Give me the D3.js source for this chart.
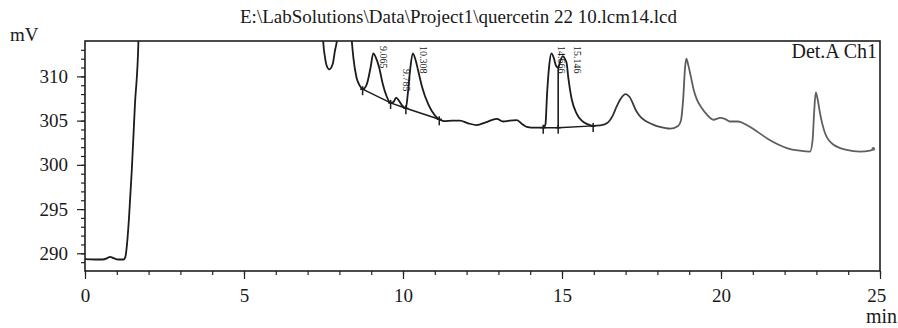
<!DOCTYPE html>
<html>
<head>
<meta charset="utf-8">
<script src="https://cdn.jsdelivr.net/npm/d3@7"></script>
<style>
  body { margin: 0; background: #fff; }
  svg { display: block; }
  svg text { font-family: "Liberation Serif", "DejaVu Serif", serif; fill: #1a1a1a; }
</style>
</head>
<body>
<svg id="chart" width="898" height="328"></svg>
<script>
// ---- chromatogram data ----
const titleText = "E:\\LabSolutions\\Data\\Project1\\quercetin 22 10.lcm14.lcd";
const channelLabel = "Det.A Ch1";
const yUnit = "mV";
const xUnit = "min";

// retention time (min)
const timeMin = [
  0, 0.3, 0.55, 0.7, 0.79, 0.9, 1.05, 1.21, 1.27, 1.32, 1.38, 1.47, 1.57, 1.68, 1.75,
  7.40, 7.49, 7.55, 7.60, 7.68, 7.79, 7.86, 7.92, 8.15,
  8.39, 8.44, 8.54, 8.65, 8.73, 8.86, 8.98, 9.065, 9.15, 9.25, 9.36, 9.48, 9.61,
  9.70, 9.785, 9.88, 10.0, 10.09, 10.15, 10.22, 10.308, 10.40, 10.48, 10.60, 10.80, 11.0, 11.14,
  11.3, 11.55, 11.79, 12.05, 12.32, 12.6, 12.95, 13.15, 13.35, 13.58, 13.75, 13.89, 14.15, 14.41,
  14.48, 14.53, 14.60, 14.666, 14.75, 14.81, 14.88, 14.95, 15.03, 15.10, 15.146, 15.20, 15.30,
  15.46, 15.62, 15.80, 15.98, 16.2, 16.41, 16.6, 16.72, 16.85, 17.0, 17.12, 17.35, 17.5, 17.66,
  17.9, 18.08, 18.40, 18.65, 18.74, 18.81, 18.87, 18.91, 18.97, 19.05, 19.14, 19.24, 19.40,
  19.55, 19.76, 19.97, 20.12, 20.28, 20.54, 20.81, 21.12, 21.49, 21.8, 22.07, 22.48, 22.80,
  22.88, 22.93, 22.98, 23.04, 23.11, 23.27, 23.53, 23.95, 24.37, 24.69, 24.79
];
// detector signal (mV)
const signalMV = [
  289.35, 289.3, 289.3, 289.45, 289.6, 289.45, 289.3, 289.3, 289.6, 291.0, 293.8, 299.3, 306.8, 314.0, 330,
  330, 314.0, 312.1, 311.2, 310.8, 311.4, 312.9, 314.0, 330,
  314.0, 312.1, 309.85, 308.9, 308.55, 309.1, 311.0, 312.6, 312.1, 311.0, 309.2, 307.8, 307.0,
  307.1, 307.6, 307.2, 306.6, 306.4, 308.0, 310.6, 312.6, 311.8, 310.6, 308.8, 306.8, 305.6, 305.15,
  304.95, 305.0, 305.0, 304.7, 304.5, 304.8, 305.2, 304.9, 305.0, 305.05, 304.6, 304.3, 304.2, 304.2,
  304.6, 308.0, 311.3, 312.6, 312.0, 311.2, 311.0, 311.8, 312.3, 311.9, 311.5, 309.8, 307.5,
  305.8, 305.0, 304.6, 304.4, 304.45, 304.7, 305.6, 306.6, 307.5, 308.0, 307.7, 306.0, 305.3, 304.9,
  304.5, 304.3, 304.1, 304.4, 305.0, 307.4, 311.0, 312.0, 311.3, 310.0, 308.5, 307.4, 306.4,
  305.7, 305.1, 305.3, 305.2, 304.9, 304.9, 304.5, 303.8, 302.9, 302.3, 301.9, 301.6, 301.5,
  302.8, 306.0, 308.2, 307.4, 305.9, 303.6, 302.3, 301.7, 301.5, 301.6, 301.8
];

const xTickValues = [0, 5, 10, 15, 20, 25];
const yTickValues = [290, 295, 300, 305, 310];

// integrated peaks: retention time labels
const peakTimes = [9.065, 9.785, 10.308, 14.666, 15.146];
const peakLabels = ["9.065", "9.785", "10.308", "14.666", "15.146"];

// integration baselines (time, mV)
const baselineA_t = [8.73, 9.61, 10.09, 11.14];
const baselineA_v = [308.55, 307.0, 306.4, 305.15];
const baselineB_t = [14.41, 14.88, 15.98];
const baselineB_v = [304.2, 304.2, 304.4];
// perpendicular drop between unresolved peaks
const dropTimes = [14.88];

// ---- layout ----
const serif = "'Liberation Serif', 'DejaVu Serif', serif";
const svg = d3.select("#chart");
const plot = { left: 85, right: 880, top: 41, bottom: 271 };

const x = d3.scaleLinear().domain([0, 25]).range([plot.left, plot.right]);
const y = d3.scaleLinear().domain([288, 314]).range([plot.bottom, plot.top]);

const trace = timeMin.map((t, i) => [t, signalMV[i]]);

// value of the trace at time t (linear between samples)
function signalAt(t) {
  const i = d3.bisector(d => d[0]).right(trace, t);
  if (i <= 0) return trace[0][1];
  if (i >= trace.length) return trace[trace.length - 1][1];
  const a = trace[i - 1], b = trace[i];
  return a[1] + (b[1] - a[1]) * (t - a[0]) / (b[0] - a[0]);
}

const defs = svg.append("defs");
defs.append("clipPath").attr("id", "plotClip")
  .append("rect")
  .attr("x", plot.left).attr("y", plot.top)
  .attr("width", plot.right - plot.left).attr("height", plot.bottom - plot.top);

defs.append("filter").attr("id", "soft")
  .append("feGaussianBlur").attr("stdDeviation", 0.35);

const grad = defs.append("linearGradient").attr("id", "traceInk")
  .attr("gradientUnits", "userSpaceOnUse")
  .attr("x1", x(15.5)).attr("x2", x(19)).attr("y1", 0).attr("y2", 0);
grad.append("stop").attr("offset", 0).attr("stop-color", "#1a1a1a");
grad.append("stop").attr("offset", 1).attr("stop-color", "#5e5e5e");

// ---- axes ----
const yMinor = d3.range(289, 314, 1);
const xMinor = d3.range(0, 26, 1);

function styleTicks(g) {
  g.select(".domain").remove();
  g.attr("font-family", serif);
  g.selectAll("line").attr("stroke", "#222").attr("stroke-width", 1.2);
  g.selectAll("text").attr("font-size", 19).style("font-family", serif).attr("fill", "#1a1a1a");
}

svg.append("g")
  .attr("transform", `translate(${plot.left},0)`)
  .call(d3.axisLeft(y).tickValues(yMinor).tickSize(4).tickFormat(""))
  .call(styleTicks);

svg.append("g")
  .attr("transform", `translate(${plot.left},0)`)
  .call(d3.axisLeft(y).tickValues(yTickValues).tickSize(8).tickPadding(9))
  .call(styleTicks);

svg.append("g")
  .attr("transform", `translate(0,${plot.bottom})`)
  .call(d3.axisBottom(x).tickValues(xMinor).tickSize(4).tickFormat(""))
  .call(styleTicks);

svg.append("g")
  .attr("transform", `translate(0,${plot.bottom})`)
  .call(d3.axisBottom(x).tickValues(xTickValues).tickSize(8).tickPadding(10))
  .call(styleTicks)
  .call(g => g.selectAll(".tick").filter(d => d === 25).select("text")
    .attr("text-anchor", "end").attr("dx", "0.3em"));

// frame
svg.append("rect")
  .attr("x", plot.left).attr("y", plot.top)
  .attr("width", plot.right - plot.left).attr("height", plot.bottom - plot.top)
  .attr("fill", "none").attr("stroke", "#1e1e1e").attr("stroke-width", 1.6);

// ---- trace ----
const body = svg.append("g").attr("clip-path", "url(#plotClip)");

const line = d3.line()
  .x(d => x(d[0])).y(d => y(d[1]))
  .curve(d3.curveMonotoneX);

body.append("path")
  .datum(trace)
  .attr("d", line)
  .attr("fill", "none")
  .attr("stroke", "url(#traceInk)")
  .attr("stroke-width", 1.8)
  .attr("stroke-linejoin", "round")
  .attr("filter", "url(#soft)");

const last = trace[trace.length - 1];
body.append("circle")
  .attr("cx", x(last[0])).attr("cy", y(last[1])).attr("r", 1.8)
  .attr("fill", "#666");

// ---- integration baselines, drop lines and markers ----
const baselines = [
  baselineA_t.map((t, i) => [t, baselineA_v[i]]),
  baselineB_t.map((t, i) => [t, baselineB_v[i]])
];
const straight = d3.line().x(d => x(d[0])).y(d => y(d[1]));

baselines.forEach(pts => {
  body.append("path")
    .attr("d", straight(pts))
    .attr("fill", "none").attr("stroke", "#1c1c1c").attr("stroke-width", 1.4);
});

dropTimes.forEach(t => {
  const base = baselineB_v[baselineB_t.indexOf(t)];
  body.append("line")
    .attr("x1", x(t)).attr("x2", x(t))
    .attr("y1", y(base)).attr("y2", y(signalAt(t)))
    .attr("stroke", "#1c1c1c").attr("stroke-width", 1.6);
});

const markers = baselines.flat();
body.selectAll("g.marker").data(markers).join("g")
  .attr("class", "marker")
  .attr("transform", d => `translate(${x(d[0])},${y(d[1])})`)
  .each(function () {
    const g = d3.select(this);
    g.append("line").attr("x1", 0).attr("x2", 0).attr("y1", -3).attr("y2", 6)
      .attr("stroke", "#1c1c1c").attr("stroke-width", 1.5);
    g.append("line").attr("x1", -2.5).attr("x2", 2.5).attr("y1", 0).attr("y2", 0)
      .attr("stroke", "#1c1c1c").attr("stroke-width", 1.5);
  });

// ---- peak retention-time labels (vertical) ----
const labelSize = 10;
peakTimes.forEach((t, i) => {
  const txt = svg.append("text")
    .attr("font-size", labelSize)
    .style("font-family", serif)
    .text(peakLabels[i]);
  const len = txt.node().getComputedTextLength();
  const top = Math.max(plot.top + 5, y(signalAt(t)) - 6 - len);
  const lx = x(t) + 7;
  txt.attr("transform", `translate(${lx},${top}) rotate(90)`);
});

// ---- titles ----
svg.append("text")
  .attr("x", 240).attr("y", 23)
  .attr("font-size", 19)
  .style("font-family", serif)
  .text(titleText);

svg.append("text")
  .attr("x", 10).attr("y", 41)
  .attr("font-size", 19)
  .style("font-family", serif)
  .text(yUnit);

svg.append("text")
  .attr("x", 877).attr("y", 58)
  .attr("text-anchor", "end")
  .attr("font-size", 20)
  .style("font-family", serif)
  .text(channelLabel);

svg.append("text")
  .attr("x", 897).attr("y", 323)
  .attr("text-anchor", "end")
  .attr("font-size", 20)
  .style("font-family", serif)
  .text(xUnit);
</script>
</body>
</html>
